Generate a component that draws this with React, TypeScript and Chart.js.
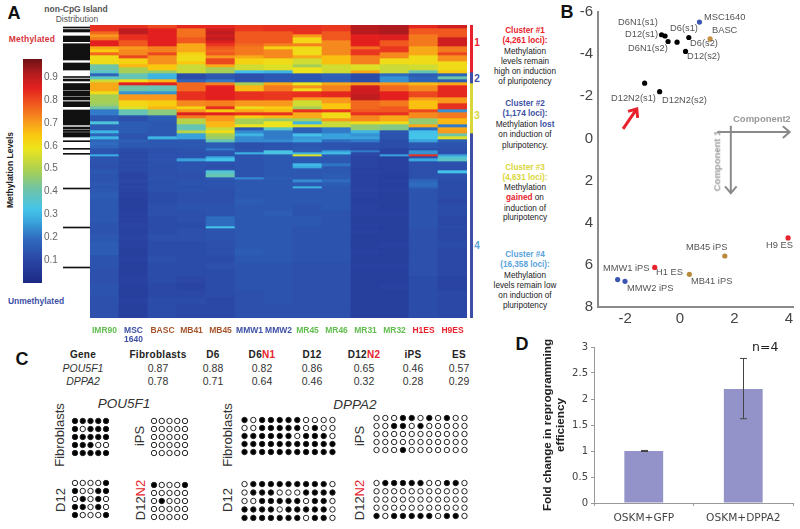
import React, { useEffect, useRef } from "react";
import { Chart, registerables } from "chart.js";

Chart.register(...registerables);

const SANS = '"Liberation Sans", Arial, sans-serif';
const VERD = '"DejaVu Sans", Verdana, sans-serif';

// ---------- Panel A: methylation (percent), one array per sample, top to bottom ----------
const samples = [["IMR90"], ["MSC", "1640"], ["BASC"], ["MB41"], ["MB45"], ["MMW1"], ["MMW2"], ["MR45"], ["MR46"], ["MR31"], ["MR32"], ["H1ES"], ["H9ES"]];
const sampleColors = ["#62bd4f", "#3d50a5", "#a5552c", "#a5552c", "#a5552c", "#3d50a5", "#3d50a5", "#62bd4f", "#62bd4f", "#62bd4f", "#62bd4f", "#e8222c", "#e8222c"];

const imr90 = [85,85,78,72,76,87,87,70,66,78,62,62,62,42,42,38,18,38,55,70,70,70,62,50,50,50,48,42,22,22,15,15,35,16,16,30,18,30,18,20,18, 14,14,14,29,14,14,14,13,13,14,15,14,14,14,15,14,15,16,15,15,15,15,14,14,14,15,16,16,14,14,13,13,14,14,13,13,13];
const msc1640 = [85,92,92,85,85,80,80,72,74,74,82,64,64,68,50,50,40,40,62,87,42,42,25,72,72,63,63,58,40,40,13,13,16,16,16,16,14,14,17,15,15, 12,12,11,12,11,12,11,12,11,12,11,10,10,11,10,11,10,9,8,8,9,9,10,10,9,10,9,8,9,8,8,9,8,8,9,8,8];
const basc = [82,87,87,87,87,87,87,75,75,82,73,73,73,66,66,48,30,30,68,87,40,40,25,72,72,65,65,68,46,46,16,16,15,15,15,15,15,30,15,15,15, 13,13,13,14,13,14,13,13,13,13,13,13,14,13,13,14,13,12,12,13,13,12,12,12,12,13,12,12,13,12,12,12,11,11,12,12,12];
const mb41 = [86,77,77,77,80,80,70,70,70,64,62,62,66,55,55,55,12,12,18,78,78,78,85,85,85,74,74,64,72,88,76,52,52,40,40,52,27,27,15,15,15, 14,14,13,14,14,27,14,14,14,14,14,13,13,14,14,13,14,13,13,14,13,13,12,12,13,13,12,12,12,12,12,11,10,11,12,11,11];
const mb45 = [86,90,92,90,92,88,84,80,78,80,72,82,82,70,50,50,15,15,22,75,87,87,87,87,87,75,75,85,65,87,72,72,68,68,55,62,50,48,40,16,16, 22,15,14,14,28,33,14,13,13,14,36,40,15,14,14,14,13,13,13,14,14,20,20,33,14,14,13,13,12,13,12,12,12,12,11,11,11];
const mmw1 = [84,84,80,80,80,80,78,76,76,76,70,64,64,56,56,32,13,13,13,50,68,68,85,85,85,72,72,62,70,85,65,50,50,60,15,24,30,24,24,13,13, 14,15,30,14,14,14,14,14,14,14,14,14,24,15,15,15,15,15,16,15,15,15,15,15,15,15,15,16,15,14,14,14,14,13,13,13,13];
const mmw2 = [85,85,80,80,80,80,75,64,74,74,74,62,62,58,58,30,15,15,15,70,76,76,84,84,84,72,72,65,68,85,68,48,60,60,38,22,22,22,24,14,14, 14,34,34,16,15,15,15,15,15,15,15,15,16,15,15,15,15,15,15,15,16,15,15,15,15,15,15,15,15,14,14,14,14,14,14,13,13];
const mr45 = [85,85,85,72,63,63,75,62,62,62,70,56,56,50,60,60,15,15,15,60,73,62,85,85,72,56,56,50,85,70,70,50,30,58,17,17,32,26,27,15,15, 16,16,30,58,16,15,15,31,28,15,15,15,15,24,15,30,15,15,15,14,14,15,15,14,14,14,14,14,14,13,13,13,13,13,13,13,13];
const mr46 = [84,84,80,80,80,74,74,74,74,74,67,67,67,56,56,56,17,17,17,70,75,75,86,86,72,72,66,66,84,62,62,72,55,55,22,22,27,27,20,14,14, 15,27,32,16,15,15,15,21,15,15,15,16,16,20,16,15,15,15,15,15,14,14,14,14,14,14,14,14,14,13,13,13,13,13,13,13,13];
const mr31 = [93,93,93,87,87,87,87,77,84,84,75,75,75,58,58,70,12,12,12,72,90,90,90,92,92,78,78,78,80,85,74,74,62,47,47,30,25,27,22,13,13, 12,22,11,11,10,10,10,10,10,9,10,9,9,9,9,9,10,9,8,9,9,8,9,8,9,8,8,9,8,9,8,8,8,8,8,8,8];
const mr32 = [94,94,94,88,88,80,80,84,84,74,74,62,62,55,55,55,20,25,25,72,78,78,87,87,87,76,76,80,80,85,70,70,62,45,45,14,14,14,12,12,12, 10,10,10,27,9,9,9,9,9,9,9,8,8,9,8,8,9,8,8,8,9,8,8,8,8,8,9,8,8,9,8,8,9,8,8,8,8];
const h1es = [86,80,80,76,76,76,76,70,70,70,62,62,62,56,56,40,16,18,18,68,74,74,82,82,72,67,67,67,82,74,74,47,47,70,20,32,33,33,27,15,15, 12,25,25,85,13,28,13,13,13,13,13,13,14,18,20,18,14,14,14,14,14,14,14,14,13,13,13,13,13,13,13,12,12,12,12,12,12];
const h9es = [90,80,80,80,90,90,90,76,76,82,73,73,62,62,62,66,18,42,16,70,86,86,86,86,72,72,85,85,25,76,76,68,68,22,70,72,42,58,16,14,14, 13,13,13,27,36,38,14,13,13,13,33,13,13,12,12,12,12,12,11,12,12,11,11,12,11,11,12,11,11,11,11,10,10,11,11,11,11];
const heatColumns = [imr90, msc1640, basc, mb41, mb45, mmw1, mmw2, mr45, mr46, mr31, mr32, h1es, h9es];

// share of the ranked loci held by each row of the arrays above
const rowShare = [3,3,3,3,3,3,3,3,3,3,3,3,3,3,3,3,3,3,3,3,3,3,3,3,3,3,3,3,3,3,3,3,3,3,3,3,3,3,3,3,3, 2,2,2,2,2,3,2,3,2,2,3,4,2,3,4,2,4,6,6,6,6,6,4,2,6,7,7,7,7,7,7,7,7,7,7,7,7,7];

// colour scale levels and colours
const scaleLevels = [0, 0.1, 0.2, 0.28, 0.33, 0.42, 0.5, 0.6, 0.66, 0.72, 0.8, 0.87, 0.93, 1];
const scaleColors = ["#1c2a85", "#2a44a3", "#2f6cc0", "#3aa9df", "#45c4ea", "#6fc4a6", "#a8cf55", "#ece41c", "#f9c80f", "#f8991d", "#f0581f", "#e3201f", "#b81c1f", "#6e1215"];
const colourbarRange = [0, 0.98];

// non-CpG island strip: start and end rank of each band
const bandStart = [2, 4.5, 11, 18.7, 21, 38, 51.5, 54, 58.5, 66, 72, 76.7, 85, 102, 105, 107.5, 115.7, 123.3, 128.3, 163, 202, 242];
const bandEnd = [3, 7, 16.7, 20.7, 35, 45, 52.5, 56, 65, 71, 75, 81.7, 100, 104, 106.5, 112, 116.7, 124.3, 129.3, 164, 203, 243];

// cluster extent in rank units
const clusterStart = [0, 47, 58, 108];
const clusterEnd = [47, 58, 108, 293];
const clusterColors = ["#e8222c", "#3d50a5", "#d9d63a", "#3d50a5"];

// ---------- Panel B ----------
const pcaX = [0.72, 1.11, 0.33, -0.1, -0.67, -0.54, -0.43, 0.21, -1.29, -0.74, 3.97, 1.65, 0.35, -0.92, -2.28, -2.01];
const pcaY = [-5.52, -4.72, -4.79, -4.57, -4.92, -4.86, -4.6, -4.13, -2.62, -2.22, 4.72, 5.58, 6.45, 6.12, 6.7, 6.78];
const pcaColors = ["#3b56b0", "#c89040", "#000", "#000", "#000", "#000", "#000", "#000", "#000", "#000", "#e8222c", "#b98a3c", "#b98a3c", "#e8222c", "#3b56b0", "#3b56b0"];

// ---------- Panel D ----------
const barLabels = ["OSKM+GFP", "OSKM+DPPA2"];
const barValues = [1, 2.19];
const barLow = [0.99, 1.62];
const barHigh = [1.01, 2.78];

// ---------- Panel C ----------
const pouFibro = ["11111", "10111", "11111", "11100", "11111"];
const pouIps = ["00000", "00000", "00000", "00000", "00000"];
const pouD12 = ["00001", "10011", "01010", "11010", "10001"];
const pouD12N2 = ["10001", "00000", "01000", "00000", "00000"];
const dppaFibro = ["10111110000", "00111110100", "11111101110", "11111111111", "11111111111"];
const dppaIps = ["00011010100", "00110100000", "00000000000", "00000000000", "00010000000"];
const dppaD12 = ["01111111110", "01110001111", "00111110110", "11110111110", "11111110110"];
const dppaD12N2 = ["01111100110", "00000000000", "00000000000", "00000000000", "10111110110"];

const tableHead = ["Gene", "Fibroblasts", "D6", "D6|N1", "D12", "D12|N2", "iPS", "ES"];
const tablePou = ["POU5F1", "0.87", "0.88", "0.82", "0.86", "0.65", "0.46", "0.57"];
const tableDppa = ["DPPA2", "0.78", "0.71", "0.64", "0.46", "0.32", "0.28", "0.29"];
const tableX = [83, 158, 213, 262, 312, 364, 413, 459];

function scaleColor(v: number) {
  let i = 0;
  while (i < scaleLevels.length - 2 && v > scaleLevels[i + 1]) i++;
  const t = Math.min(1, (v - scaleLevels[i]) / (scaleLevels[i + 1] - scaleLevels[i]));
  const p = (h: string, k: number) => parseInt(h.substr(k, 2), 16);
  const a = scaleColors[i], b = scaleColors[i + 1];
  const c = [1, 3, 5].map((k) => Math.round(p(a, k) + (p(b, k) - p(a, k)) * t));
  return `rgb(${c[0]},${c[1]},${c[2]})`;
}

const base = { responsive: false, animation: false as const, events: [] as any[], plugins: { legend: { display: false }, tooltip: { enabled: false } } };

function ChartBox({ left, top, width, height, make }: any) {
  const ref = useRef<HTMLCanvasElement>(null);
  useEffect(() => {
    const chart = new Chart(ref.current as any, make());
    return () => chart.destroy();
  }, []);
  return <canvas ref={ref} width={width} height={height} style={{ position: "absolute", left, top, width, height, display: "block" }} />;
}

function T({ x, y, c = "#222", s = 8.5, b = false, i = false, rot = 0, anchor = "center", f = SANS, ls = 0, children }: any) {
  const tx = anchor === "center" ? "-50%" : "0";
  return (
    <div style={{ position: "absolute", left: x, top: y, color: c, fontSize: s, fontWeight: b ? 700 : 400, fontStyle: i ? "italic" : "normal", fontFamily: f, letterSpacing: ls, whiteSpace: "nowrap", lineHeight: 1, transform: `translate(${tx},-50%) rotate(${rot}deg)` }}>
      {children}
    </div>
  );
}

const heatConfig = () => ({
  type: "bar",
  data: {
    labels: samples,
    datasets: rowShare.map((h, r) => ({
      data: samples.map(() => h),
      backgroundColor: heatColumns.map((col) => scaleColor(col[r] / 100)),
      borderWidth: 0,
      barPercentage: 1,
      categoryPercentage: 1,
    })),
  },
  options: {
    ...base,
    scales: {
      x: {
        stacked: true,
        afterFit: (a: any) => { a.height = 30; a.paddingLeft = 0; a.paddingRight = 0; },
        grid: { display: false, drawTicks: false },
        border: { display: false },
        ticks: { padding: 8, autoSkip: false, maxRotation: 0, font: { family: SANS, size: 8.5, weight: "bold", lineHeight: 1.1 }, color: (c: any) => sampleColors[c.index] },
      },
      y: { stacked: true, display: false, reverse: true, min: 0, max: 293 },
    },
  },
});

const bandsConfig = (starts: number[], ends: number[], colors: string[]) => () => ({
  type: "bar",
  data: {
    labels: ["rank"],
    datasets: starts.map((s, i) => ({
      data: [[s, ends[i]]],
      backgroundColor: colors[i] || colors[0],
      borderWidth: 0,
      barPercentage: 1,
      categoryPercentage: 1,
      grouped: false,
    })),
  },
  options: { ...base, scales: { x: { display: false }, y: { display: false, reverse: true, min: 0, max: 293 } } },
});

const colourbarConfig = () => ({
  type: "bar",
  data: {
    labels: ["level"],
    datasets: [{
      data: [colourbarRange],
      barPercentage: 1,
      categoryPercentage: 1,
      borderWidth: 0,
      backgroundColor: (c: any) => {
        const area = c.chart.chartArea;
        if (!area) return "#000";
        const g = c.chart.ctx.createLinearGradient(0, area.bottom, 0, area.top);
        scaleLevels.forEach((l, i) => g.addColorStop(l, scaleColors[i]));
        return g;
      },
    }],
  },
  options: {
    ...base,
    scales: {
      x: { display: false },
      y: {
        position: "right",
        min: 0,
        max: 0.98,
        afterFit: (a: any) => { a.width = 18; },
        afterBuildTicks: (a: any) => { a.ticks = [0.1, 0.2, 0.3, 0.4, 0.5, 0.6, 0.7, 0.8, 0.9].map((value) => ({ value })); },
        grid: { display: false, drawTicks: false },
        border: { display: false },
        ticks: { padding: 2, color: "#666", font: { family: SANS, size: 10 }, callback: (v: any) => Number(v).toFixed(1) },
      },
    },
  },
});

const arrowsPlugin = {
  id: "arrows",
  afterDatasetsDraw(chart: any) {
    const { ctx, scales } = chart;
    const arrow = (x0: number, y0: number, x1: number, y1: number, color: string, lw: number, head: number) => {
      const a = scales.x.getPixelForValue(x0), b = scales.y.getPixelForValue(y0);
      const c = scales.x.getPixelForValue(x1), d = scales.y.getPixelForValue(y1);
      const t = Math.atan2(d - b, c - a);
      ctx.save();
      ctx.strokeStyle = color;
      ctx.lineWidth = lw;
      ctx.beginPath();
      ctx.moveTo(a, b);
      ctx.lineTo(c, d);
      ctx.moveTo(c - head * Math.cos(t - 0.7), d - head * Math.sin(t - 0.7));
      ctx.lineTo(c, d);
      ctx.lineTo(c - head * Math.cos(t + 0.7), d - head * Math.sin(t + 0.7));
      ctx.stroke();
      ctx.restore();
    };
    arrow(1.37, -0.3, 4.03, -0.3, "#8a8a8a", 2, 9);
    arrow(1.87, -0.6, 1.87, 2.6, "#8a8a8a", 2, 9);
    arrow(-2.08, -0.45, -1.58, -1.4, "#e8222c", 3, 9);
  },
};

const pcaConfig = () => ({
  type: "scatter",
  data: {
    datasets: [{
      data: pcaX.map((x, i) => ({ x, y: pcaY[i] })),
      pointRadius: 2.6,
      pointBorderWidth: 0,
      pointBackgroundColor: pcaColors,
    }],
  },
  options: {
    ...base,
    layout: { padding: { top: 12, right: 7 } },
    scales: {
      x: {
        min: -3,
        max: 4.15,
        afterFit: (a: any) => { a.height = 23; a.paddingLeft = 0; a.paddingRight = 0; },
        afterBuildTicks: (a: any) => { a.ticks = [-2, 0, 2, 4].map((value) => ({ value })); },
        grid: { display: false, drawTicks: false },
        border: { color: "#8a8a8a", width: 2 },
        ticks: { padding: 3, color: "#444", font: { family: SANS, size: 15 } },
      },
      y: {
        reverse: true,
        min: -6,
        max: 8,
        afterFit: (a: any) => { a.width = 38; a.paddingTop = 0; a.paddingBottom = 0; },
        grid: { display: false, drawTicks: false },
        border: { color: "#8a8a8a", width: 2 },
        ticks: { stepSize: 2, padding: 5, color: "#444", font: { family: SANS, size: 15 } },
      },
    },
  },
});

const errorPlugin = {
  id: "errors",
  afterDatasetsDraw(chart: any) {
    const { ctx, scales } = chart;
    ctx.save();
    ctx.strokeStyle = "#444";
    ctx.lineWidth = 1;
    barLabels.forEach((_, i) => {
      const x = Math.round(scales.x.getPixelForValue(i)) + 0.5;
      const a = scales.y.getPixelForValue(barLow[i]), b = scales.y.getPixelForValue(barHigh[i]);
      ctx.beginPath();
      ctx.moveTo(x, a); ctx.lineTo(x, b);
      ctx.moveTo(x - 3.5, a); ctx.lineTo(x + 3.5, a);
      ctx.moveTo(x - 3.5, b); ctx.lineTo(x + 3.5, b);
      ctx.stroke();
    });
    ctx.restore();
  },
};

const foldConfig = () => ({
  type: "bar",
  data: {
    labels: barLabels,
    datasets: [{ data: barValues, backgroundColor: "#9393c9", borderWidth: 0, barPercentage: 0.39, categoryPercentage: 1 }],
  },
  options: {
    ...base,
    layout: { padding: { top: 12, right: 7, left: 11 } },
    scales: {
      x: {
        afterFit: (a: any) => { a.height = 26; a.paddingLeft = 0; a.paddingRight = 0; },
        grid: { display: true, drawOnChartArea: false, drawTicks: true, tickLength: 3, color: "#999" },
        border: { color: "#999", width: 1 },
        ticks: { padding: 6, color: "#444", font: { family: VERD, size: 10.6 }, maxRotation: 0 },
      },
      y: {
        min: 0,
        max: 3,
        afterFit: (a: any) => { a.width = 53; a.paddingTop = 0; a.paddingBottom = 0; },
        grid: { display: true, drawOnChartArea: false, drawTicks: true, tickLength: 3, color: "#999" },
        border: { color: "#999", width: 1 },
        title: { display: true, text: ["Fold change in reprogramming", "efficiency"], color: "#222", font: { family: SANS, size: 11.7, weight: "bold", lineHeight: 1.15 }, padding: { top: 0, bottom: 0 } },
        ticks: { stepSize: 0.5, padding: 3, color: "#444", font: { family: VERD, size: 10 }, callback: (v: any) => String(v) },
      },
    },
  },
});

const dotsConfig = (rows: string[], dx: number, dy: number, pad: number) => () => {
  const pts: any[] = [];
  const fills: string[] = [];
  rows.forEach((row, r) => row.split("").forEach((d, c) => {
    pts.push({ x: c, y: r });
    fills.push(d === "1" ? "#000" : "#fff");
  }));
  return {
    type: "scatter",
    data: { datasets: [{ data: pts, pointRadius: 2.7, pointBorderWidth: 1, pointBorderColor: "#222", pointBackgroundColor: fills }] },
    options: {
      ...base,
      scales: {
        x: { display: false, min: -pad / dx, max: rows[0].length - 1 + pad / dx },
        y: { display: false, reverse: true, min: -pad / dy, max: rows.length - 1 + pad / dy },
      },
    },
  };
};

const matrices: any[] = [
  { rows: pouFibro, x: 71.3, y: 417.3, w: 39, h: 40.4 },
  { rows: pouIps, x: 149.7, y: 417.3, w: 38.6, h: 40.4 },
  { rows: pouD12, x: 71.3, y: 479.3, w: 39, h: 40.4 },
  { rows: pouD12N2, x: 149.7, y: 481, w: 38.6, h: 40.4 },
  { rows: dppaFibro, x: 240, y: 416, w: 97, h: 40 },
  { rows: dppaIps, x: 372.3, y: 414.3, w: 97, h: 40 },
  { rows: dppaD12, x: 240, y: 479.5, w: 97, h: 41.5 },
  { rows: dppaD12N2, x: 372.3, y: 479.3, w: 97, h: 40.7 },
];

const pcaLabels: any[] = [
  ["D6N1(s1)", 618, 23], ["D12(s1)", 625, 35], ["D6(s1)", 670, 29], ["MSC1640", 704, 18], ["BASC", 712, 31],
  ["D6(s2)", 690, 44], ["D6N1(s2)", 628, 49], ["D12(s2)", 687, 57], ["D12N2(s1)", 611, 99], ["D12N2(s2)", 662, 101],
  ["H9 ES", 766, 246], ["MB45 iPS", 686, 248], ["MMW1 iPS", 603, 269], ["H1 ES", 656, 273], ["MB41 iPS", 691, 282], ["MMW2 iPS", 627, 289],
];

const RED = "#e8222c", BLUE = "#3d50a5", YEL = "#d9d63a", SKY = "#5aa3dc";
const note = (x: number, ys: number[], lines: any[], color: string) =>
  lines.map((l, i) => (
    <T key={String(ys[i])} x={x} y={ys[i]} c={i < 2 ? color : "#222"} b={i < 2} s={8.2}>{l}</T>
  ));

const Split = ({ v }: { v: string }) => {
  const [a, b] = v.split("|");
  return <>{a}{b && <span style={{ color: RED }}>{b}</span>}</>;
};

export default function App() {
  return (
    <div style={{ position: "absolute", left: 0, top: 0, width: 800, height: 529, background: "#fff", overflow: "hidden", filter: "blur(0.45px)" }}>
      {/* Panel A */}
      <T x={14} y={13} s={18} b c="#111">A</T>
      <T x={76} y={9} b c="#555" s={8.5}>non-CpG Island</T>
      <T x={77} y={19} c="#555" s={8.5}>Distribution</T>
      <T x={32} y={39} b c="#d8363c" s={8.5} ls={0.2}>Methylated</T>
      <T x={36} y={301} b c={BLUE} s={8.5}>Unmethylated</T>
      <T x={10} y={170} b c="#222" s={8.5} rot={-90}>Methylation Levels</T>
      <ChartBox left={23} top={51} width={37} height={240} make={colourbarConfig} />
      <ChartBox left={63} top={25} width={27} height={293} make={bandsConfig(bandStart, bandEnd, ["#111"])} />
      <ChartBox left={90} top={25} width={377} height={323} make={heatConfig} />
      <ChartBox left={470} top={25} width={3} height={293} make={bandsConfig(clusterStart, clusterEnd, clusterColors)} />
      <T x={477} y={43} b c={RED} s={10}>1</T>
      <T x={477} y={79} b c={BLUE} s={10}>2</T>
      <T x={477} y={116} b c={YEL} s={10}>3</T>
      <T x={477} y={246} b c={SKY} s={10}>4</T>
      {note(525, [31, 41, 52, 62, 72, 82], ["Cluster #1", "(4,261 loci):", "Methylation", "levels remain", "high on induction", "of pluripotency"], RED)}
      {note(525, [104, 114, 125, 135, 146], ["Cluster #2", "(1,174 loci):", <>Methylation <b style={{ color: BLUE }}>lost</b></>, "on induction of", "pluripotency."], BLUE)}
      {note(525, [168, 178, 188, 198, 209, 218], ["Cluster #3", "(4,631 loci):", "Methylation", <><b style={{ color: RED }}>gained</b> on</>, "induction of", "pluripotency"], YEL)}
      {note(525, [255, 265, 276, 286, 296, 306], ["Cluster #4", "(16,358 loci):", "Methylation", "levels remain low", "on induction of", "pluripotency"], SKY)}

      {/* Panel B */}
      <T x={567} y={12} s={18} b c="#111">B</T>
      <ChartBox left={560} top={0} width={240} height={330} make={() => ({ ...pcaConfig(), plugins: [arrowsPlugin] })} />
      {pcaLabels.map((l) => (
        <T key={l[0]} x={l[1]} y={l[2]} anchor="left" c="#555" s={9.3}>{l[0]}</T>
      ))}
      <T x={733} y={119} anchor="left" b c="#999" s={9.5}>Component</T>
      <T x={788} y={119} anchor="center" b c="#999" s={9.5}>2</T>
      <T x={717} y={161} b c="#999" s={9.5} rot={-90}>Component 1</T>

      {/* Panel C */}
      <T x={22} y={359} s={18} b c="#111">C</T>
      {tableHead.map((h, i) => <T key={h} x={tableX[i]} y={355} b s={10} c="#222" ls={0.3}><Split v={h} /></T>)}
      {tablePou.map((h, i) => <T key={i} x={tableX[i]} y={368} s={10.5} i={i === 0} c="#333">{h}</T>)}
      {tableDppa.map((h, i) => <T key={i} x={tableX[i]} y={381} s={10.5} i={i === 0} c="#333">{h}</T>)}
      <T x={124} y={404} s={13.5} i c="#333">POU5F1</T>
      <T x={355} y={405} s={13.5} i c="#333">DPPA2</T>
      <T x={59} y={435} s={13} rot={-90} c="#333">Fibroblasts</T>
      <T x={139} y={436} s={13} rot={-90} c="#333">iPS</T>
      <T x={60} y={500} s={13} rot={-90} c="#333">D12</T>
      <T x={140} y={500} s={13} rot={-90} c="#333">D12<span style={{ color: RED }}>N2</span></T>
      <T x={227} y={435} s={13} rot={-90} c="#333">Fibroblasts</T>
      <T x={359} y={436} s={13} rot={-90} c="#333">iPS</T>
      <T x={227} y={500} s={13} rot={-90} c="#333">D12</T>
      <T x={359} y={500} s={13} rot={-90} c="#333">D12<span style={{ color: RED }}>N2</span></T>
      {matrices.map((m, i) => {
        const pad = 5;
        const dx = m.w / (m.rows[0].length - 1);
        const dy = m.h / (m.rows.length - 1);
        return <ChartBox key={i} left={Math.round(m.x) - pad} top={Math.round(m.y) - pad} width={Math.round(m.w) + 2 * pad} height={Math.round(m.h) + 2 * pad} make={dotsConfig(m.rows, dx, dy, pad)} />;
      })}

      {/* Panel D */}
      <T x={522} y={344} s={18} b c="#111">D</T>
      <ChartBox left={530} top={335} width={270} height={194} make={() => ({ ...foldConfig(), plugins: [errorPlugin] })} />
      <T x={752} y={347} anchor="left" s={12.5} f={VERD} c="#222">n=4</T>
    </div>
  );
}
